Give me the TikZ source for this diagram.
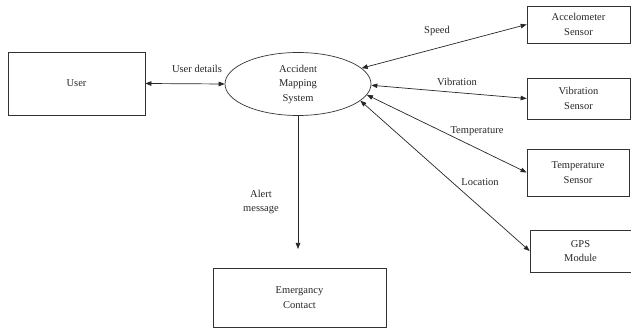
\documentclass[tikz,border=0pt]{standalone}
\usepackage{fontspec}
\setmainfont{Liberation Serif}
\usetikzlibrary{shapes.geometric,arrows.meta}
\begin{document}
\begin{tikzpicture}[x=1pt,y=-1pt,
  font=\fontsize{10.5}{14.5}\selectfont,
  every node/.style={text=black!85},
  box/.style={draw=black!80,line width=0.7pt,rectangle,inner sep=0pt,align=center},
  proc/.style={draw=black!80,line width=0.7pt,ellipse,inner sep=0pt,align=center,minimum width=146pt,minimum height=63pt},
  lbl/.style={inner sep=1pt,align=center},
  flow/.style={draw=black!85,line width=0.7pt,-{Triangle[length=6pt,width=4.5pt]}},
  biflow/.style={draw=black!85,line width=0.7pt,{Triangle[length=6pt,width=4.5pt]}-{Triangle[length=6pt,width=4.5pt]}}]
\useasboundingbox (0,0) rectangle (631,328);
\node[box,minimum width=137pt,minimum height=63pt] (user) at (76.5,83.5) {User};
\node[proc] (sys) at (298,84) {Accident\\Mapping\\System};
\node[box,minimum width=103pt,minimum height=37pt] (acc) at (578.5,24.5) {Accelometer\\Sensor};
\node[box,minimum width=103pt,minimum height=41pt] (vib) at (578.5,98.5) {Vibration\\Sensor};
\node[box,minimum width=102pt,minimum height=47pt] (temp) at (578,172.5) {Temperature\\Sensor};
\node[box,minimum width=101pt,minimum height=42pt] (gps) at (580.5,251) {GPS\\Module};
\node[box,minimum width=173pt,minimum height=59pt] (emg) at (299.5,297.5) {Emergancy\\Contact};
\coordinate (alertend) at (298,249);
\draw[biflow] (user.east) -- (sys.west);
\draw[biflow] (sys.14.5) -- (acc.west);
\draw[biflow] (sys.-1) -- (vib.west);
\draw[biflow] (sys.-9) -- (temp.west);
\draw[biflow] (sys.-15) -- (gps.west);
\draw[flow] (sys.south) -- (alertend);
\node[lbl] (l1) at (197,69) {User details};
\node[lbl] (l2) at (437,31) {Speed};
\node[lbl] (l3) at (457,82) {Vibration};
\node[lbl] (l4) at (477,131) {Temperature};
\node[lbl] (l5) at (480,182) {Location};
\node[lbl] (l6) at (261,202) {Alert\\message};
\end{tikzpicture}
\end{document}
